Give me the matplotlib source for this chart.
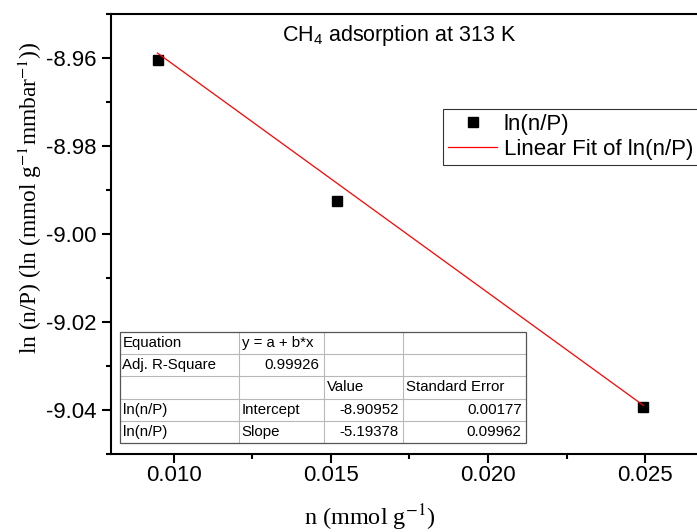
import matplotlib
matplotlib.use('Agg')
import matplotlib.pyplot as plt
from matplotlib.ticker import MultipleLocator, FormatStrFormatter
from matplotlib.lines import Line2D
from matplotlib.patches import Rectangle
import numpy as np

plt.rcParams['font.family'] = 'Liberation Sans'
plt.rcParams['axes.unicode_minus'] = False
plt.rcParams['mathtext.fontset'] = 'custom'
plt.rcParams['mathtext.rm'] = 'Liberation Sans'
plt.rcParams['mathtext.it'] = 'Liberation Sans:italic'
plt.rcParams['mathtext.bf'] = 'Liberation Sans:bold'

# CH4 adsorption points
n_uptake = [0.00949, 0.01519, 0.02494]
ln_n_over_p = [-8.9604, -8.9924, -9.0394]

# linear fit results as printed in the embedded table
intercept = -8.90952
slope = -5.19378

table_rows = [
    ["Equation", "y = a + b*x", "", ""],
    ["Adj. R-Square", "0.99926", "", ""],
    ["", "", "Value", "Standard Error"],
    ["ln(n/P)", "Intercept", "-8.90952", "0.00177"],
    ["ln(n/P)", "Slope", "-5.19378", "0.09962"],
]

W, H = 697, 532
def fx(px):
    return px / W
def fy(py):
    return 1 - py / H

fig = plt.figure(figsize=(W / 100, H / 100), dpi=100)
# axes runs past the right edge like in the cropped original
ax = fig.add_axes([fx(110.7), fy(453.5), (708.2 - 110.7) / W, (453.5 - 14.4) / H])

ax.plot(n_uptake, ln_n_over_p, 's', color='black', markersize=7.2, label='ln(n/P)')
xfit = np.array([n_uptake[0], n_uptake[-1]])
ax.plot(xfit, intercept + slope * xfit, '-', color='red', lw=0.9,
        label='Linear Fit of ln(n/P)')

ax.set_xlim(0.008, 0.027)
ax.set_ylim(-9.05, -8.95)
ax.xaxis.set_major_locator(MultipleLocator(0.005))
ax.xaxis.set_minor_locator(MultipleLocator(0.0025))
ax.yaxis.set_major_locator(MultipleLocator(0.02))
ax.yaxis.set_minor_locator(MultipleLocator(0.01))
ax.xaxis.set_major_formatter(FormatStrFormatter('%.3f'))
ax.yaxis.set_major_formatter(FormatStrFormatter('%.2f'))

for sp in ax.spines.values():
    sp.set_linewidth(1.5)
ax.tick_params(which='both', direction='out', width=1.5, top=False, right=False)
ax.tick_params(which='major', length=6.5, labelsize=16, pad=2)
ax.tick_params(which='minor', length=3.5)
ax.tick_params(axis='y', which='major', pad=3.5)

ax.set_xlabel(r'n (mmol g$^{-1}$)', fontsize=17.5, family='Liberation Serif',
              math_fontfamily='stix')
ax.xaxis.set_label_coords(0.434, -0.147)
ax.xaxis.label.set_va('center')
ax.set_ylabel(r'ln (n/P) (ln (mmol g$^{-1}$mmbar$^{-1}$))', fontsize=16.8,
              family='Liberation Serif', math_fontfamily='stix')
ax.yaxis.set_label_coords(-0.135, 0.582)
ax.yaxis.label.set_va('center')

fig.text(fx(281.7), fy(35), r'CH$_4$ adsorption at 313 K', ha='left', va='center',
         fontsize=15.5)

leg = ax.legend(loc='upper left', bbox_to_anchor=(fx(443.3), fy(109.3)),
                bbox_transform=fig.transFigure, borderaxespad=0, fontsize=16,
                fancybox=False, handlelength=2.2, handletextpad=0.3,
                borderpad=0.22, labelspacing=0.18, numpoints=1)
leg.get_frame().set_edgecolor('black')
leg.get_frame().set_linewidth(0.8)

# fit result table (Origin style)
col_x = [119.5, 238.5, 323.5, 402.5, 525.7]
row_y = [331.7, 354.0, 376.3, 398.6, 420.9, 443.3]
fig.add_artist(Rectangle((fx(col_x[0]), fy(row_y[-1])), (col_x[-1] - col_x[0]) / W,
                         (row_y[-1] - row_y[0]) / H, transform=fig.transFigure,
                         facecolor='white', edgecolor='none', zorder=5))
for y in row_y[1:-1]:
    fig.add_artist(Line2D([fx(col_x[0]), fx(col_x[-1])], [fy(y), fy(y)],
                          color='#b8b8b8', lw=0.8, zorder=6))
for x in col_x[1:-1]:
    fig.add_artist(Line2D([fx(x), fx(x)], [fy(row_y[0]), fy(row_y[-1])],
                          color='#b8b8b8', lw=0.8, zorder=6))
fig.add_artist(Rectangle((fx(col_x[0]), fy(row_y[-1])), (col_x[-1] - col_x[0]) / W,
                         (row_y[-1] - row_y[0]) / H, transform=fig.transFigure,
                         facecolor='none', edgecolor='#555555', lw=0.9, zorder=7))

for r, row in enumerate(table_rows):
    yc = (row_y[r] + row_y[r + 1]) / 2
    for c, txt in enumerate(row):
        if not txt:
            continue
        try:
            float(txt)
            is_num = True
        except ValueError:
            is_num = False
        if is_num:
            fig.text(fx(col_x[c + 1] - 4), fy(yc), txt, ha='right', va='center',
                     fontsize=10.8, zorder=8)
        else:
            fig.text(fx(col_x[c] + 3), fy(yc), txt, ha='left', va='center',
                     fontsize=10.8, zorder=8)

fig.savefig('out.png', dpi=100)
